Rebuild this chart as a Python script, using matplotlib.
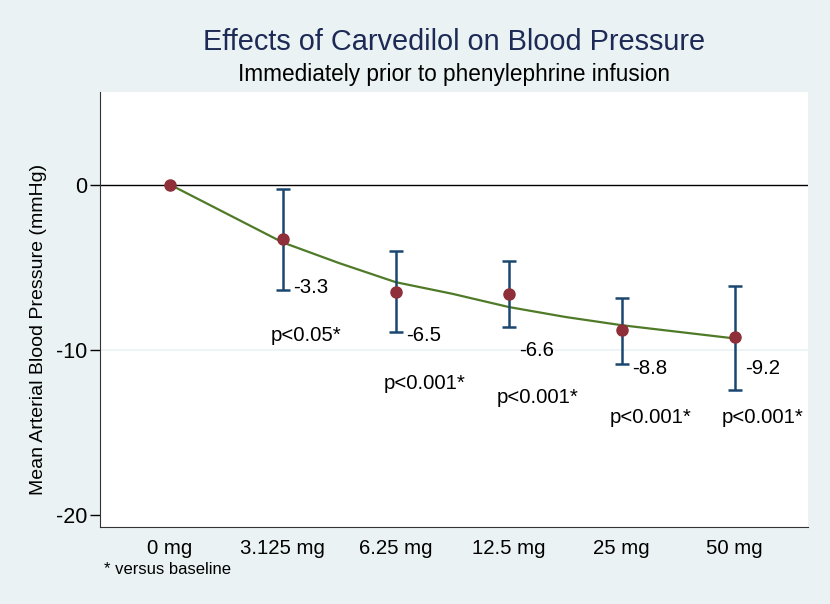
import numpy as np
import matplotlib
matplotlib.use('Agg')
import matplotlib.pyplot as plt

plt.rcParams['font.family'] = ['Liberation Sans', 'DejaVu Sans']

doses = ['0 mg', '3.125 mg', '6.25 mg', '12.5 mg', '25 mg', '50 mg']
mean_map = [0.0, -3.3, -6.5, -6.6, -8.8, -9.2]
ci_low = [0.0, -6.4, -8.9, -8.6, -10.85, -12.4]
ci_high = [0.0, -0.25, -4.0, -4.6, -6.85, -6.1]
pvals = ['', 'p<0.05*', 'p<0.001*', 'p<0.001*', 'p<0.001*', 'p<0.001*']

# fitted curve (half-category steps)
fit_x = [0, 0.5, 1, 1.5, 2, 2.5, 3, 3.5, 4, 4.5, 5]
fit_y = [0.0, -1.75, -3.5, -4.75, -5.9, -6.6, -7.4, -8.0, -8.5, -8.9, -9.3]

# label heights (data units) for value / p-value annotations
val_label_y = [None, -6.2, -9.1, -10.05, -11.1, -11.1]
p_label_y = [None, -9.1, -12.0, -12.85, -14.05, -14.05]

bg = '#eaf2f3'
fig = plt.figure(figsize=(8.30, 6.04), dpi=100, facecolor=bg)
ax = fig.add_axes([100/830, 77/604, 708/830, 435/604])
ax.set_facecolor('white')

x = np.arange(len(doses))
mean_map = np.array(mean_map)
lo = np.array(ci_low)
hi = np.array(ci_high)

ax.axhline(-10, color=bg, lw=1.2, zorder=0)
ax.axhline(0, color='black', lw=1.0, zorder=1)

ax.plot(fit_x, fit_y, color='#4f7a28', lw=1.6, zorder=2)
ax.errorbar(x[1:], mean_map[1:], yerr=[mean_map[1:] - lo[1:], hi[1:] - mean_map[1:]],
            fmt='none', ecolor='#1a476f', elinewidth=1.8, capsize=5, capthick=1.8, zorder=3)
ax.plot(x, mean_map, 'o', color='#8e2f3a', ms=8, mec='#8e2f3a', zorder=4)

for i in range(1, len(doses)):
    ax.text(x[i] + 0.09, val_label_y[i], '%.1f' % mean_map[i], fontsize=14.7,
            ha='left', va='center')
    ax.text(x[i] - 0.11, p_label_y[i], pvals[i], fontsize=14.7,
            ha='left', va='center')

ax.set_xlim(-0.62, 5.65)
ax.set_ylim(-20.7, 5.6)
ax.set_xticks(x)
ax.set_xticklabels(doses, fontsize=14.7)
ax.set_yticks([0, -10, -20])
ax.set_yticklabels(['0', '-10', '-20'], fontsize=15.5)
ax.tick_params(axis='x', length=0, pad=9)
ax.tick_params(axis='y', length=7, width=1, pad=2)
ax.set_ylabel('Mean Arterial Blood Pressure (mmHg)', fontsize=14)
ax.yaxis.set_label_coords(-53/708, 0.455)

for s in ['top', 'right']:
    ax.spines[s].set_visible(False)
for s in ['left', 'bottom']:
    ax.spines[s].set_color('#333333')

fig.text(454/830, 1 - 42/604, 'Effects of Carvedilol on Blood Pressure',
         fontsize=20.8, color='#1c2a55', ha='center', va='center')
fig.text(454/830, 1 - 75/604, 'Immediately prior to phenylephrine infusion',
         fontsize=16.3, ha='center', va='center')
fig.text(104/830, 1 - 570/604, '* versus baseline', fontsize=12,
         ha='left', va='center')

fig.savefig('out.png', dpi=100, facecolor=bg)
